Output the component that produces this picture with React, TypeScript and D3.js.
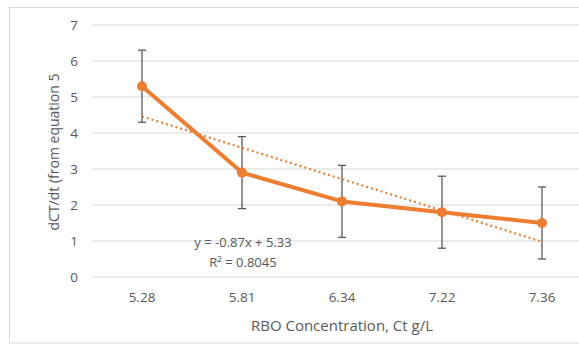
import { useEffect, useRef } from "react"
import * as d3 from "d3"

const categories = ["5.28", "5.81", "6.34", "7.22", "7.36"]
const values = [5.3, 2.9, 2.1, 1.8, 1.5]
const errors = [1, 1, 1, 1, 1]
const yTicks = [0, 1, 2, 3, 4, 5, 6, 7]
const slope = -0.87
const intercept = 5.33
const r2 = "0.8045"

const ORANGE = "#ED7D31"
const TEXT = "#595959"
const FONT = "'Open Sans', 'Noto Sans', sans-serif"

export default function App() {
  const ref = useRef<SVGSVGElement>(null)
  useEffect(() => {
    if (!ref.current) return
    const W = 579, H = 346
    const svg = d3.select(ref.current)
    svg.selectAll("*").remove()

    // chart area border
    svg.append("rect").attr("x", 9.5).attr("y", 7.5).attr("width", 600).attr("height", 335.5)
      .attr("fill", "#fff").attr("stroke", "#D9D9D9").attr("stroke-width", 1)

    const x = d3.scaleBand().domain(categories).range([92, 592])
    const y = d3.scaleLinear().domain([0, 7]).range([277, 25])
    const cx = (i: number) => (x(categories[i]) ?? 0) + x.bandwidth() / 2

    // gridlines
    svg.append("g").selectAll("line").data(yTicks).join("line")
      .attr("x1", 92).attr("x2", 592).attr("y1", d => y(d)).attr("y2", d => y(d))
      .attr("stroke", "#D9D9D9").attr("stroke-width", 1)

    // y tick labels
    svg.append("g").selectAll("text").data(yTicks).join("text")
      .attr("x", 78).attr("y", d => y(d)).attr("dy", "0.35em").attr("text-anchor", "end")
      .style("font-family", FONT).style("font-size", "13.5px").style("fill", TEXT).text(d => d)

    // x tick labels
    svg.append("g").selectAll("text").data(categories).join("text")
      .attr("x", (_, i) => cx(i)).attr("y", 302).attr("text-anchor", "middle")
      .style("font-family", FONT).style("font-size", "13.5px").style("fill", TEXT).text(d => d)

    // axis titles
    svg.append("text").attr("x", 342).attr("y", 331).attr("text-anchor", "middle")
      .style("font-family", FONT).style("font-size", "15px").style("fill", TEXT)
      .text("RBO Concentration, Ct g/L")
    svg.append("text").attr("transform", `translate(59,152) rotate(-90)`).attr("text-anchor", "middle")
      .style("font-family", FONT).style("font-size", "14px").style("fill", TEXT)
      .text("dCT/dt (from equation 5")

    // error bars
    const eb = svg.append("g").attr("stroke", "#595959").attr("stroke-width", 1.3)
    values.forEach((v, i) => {
      const px = cx(i)
      eb.append("line").attr("x1", px).attr("x2", px).attr("y1", y(v + errors[i])).attr("y2", y(v - errors[i]))
      eb.append("line").attr("x1", px - 4).attr("x2", px + 4).attr("y1", y(v + errors[i])).attr("y2", y(v + errors[i]))
      eb.append("line").attr("x1", px - 4).attr("x2", px + 4).attr("y1", y(v - errors[i])).attr("y2", y(v - errors[i]))
    })

    // trendline
    svg.append("line")
      .attr("x1", cx(0)).attr("y1", y(slope * 1 + intercept))
      .attr("x2", cx(values.length - 1)).attr("y2", y(slope * values.length + intercept))
      .attr("stroke", ORANGE).attr("stroke-width", 2.2).attr("stroke-dasharray", "2 3")

    // series
    const line = d3.line<number>().x((_, i) => cx(i)).y(d => y(d))
    svg.append("path").datum(values).attr("d", line).attr("fill", "none")
      .attr("stroke", ORANGE).attr("stroke-width", 4).attr("stroke-linejoin", "round")
    svg.append("g").selectAll("circle").data(values).join("circle")
      .attr("cx", (_, i) => cx(i)).attr("cy", d => y(d)).attr("r", 5).attr("fill", ORANGE)

    // equation label
    const eq = svg.append("text").attr("text-anchor", "middle")
      .style("font-family", FONT).style("font-size", "13px").style("fill", TEXT)
    eq.append("tspan").attr("x", 243).attr("y", 247).text(`y = ${slope}x + ${intercept}`)
    eq.append("tspan").attr("x", 243).attr("y", 267).text(`R² = ${r2}`)

    svg.attr("width", W).attr("height", H)
  }, [])
  return <svg ref={ref} width={579} height={346} style={{ position: "absolute", left: 0, top: 0, display: "block", background: "#fff" }} />
}
